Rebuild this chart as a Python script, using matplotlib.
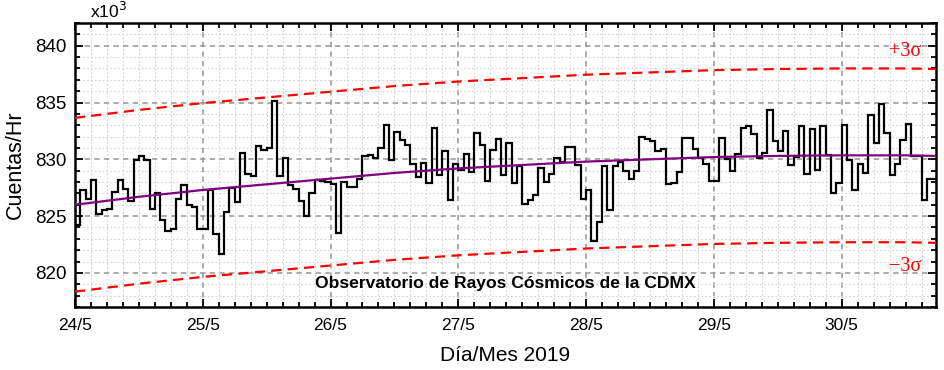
import numpy as np
import matplotlib
matplotlib.use("Agg")
import matplotlib.pyplot as plt
from matplotlib.ticker import MultipleLocator

# ---------------- data (counts per hour, x10^3) ----------------
day_labels = ["24/5", "25/5", "26/5", "27/5", "28/5", "29/5", "30/5"]

counts = [
    824.2, 827.3, 826.5, 828.2, 825.2, 825.5, 825.6, 827.1, 828.2, 827.4,
    826.3, 829.9, 830.3, 829.9, 825.6, 827.0, 824.7, 823.7, 823.9, 826.5,
    827.7, 826.0, 825.8, 823.9, 823.9, 827.3, 823.4, 821.7, 825.4, 827.5,
    826.2, 830.6, 828.7, 828.5, 831.2, 830.8, 831.0, 835.1, 828.5, 830.1,
    827.7, 827.4, 826.3, 825.0, 827.0, 828.2, 828.1, 828.0, 827.8, 823.5,
    828.0, 827.6, 827.6, 828.3, 830.3, 830.4, 830.1, 831.0, 833.0, 829.9,
    832.4, 831.7, 831.3, 829.6, 828.4, 829.7, 827.9, 832.8, 828.6, 830.7,
    826.4, 829.6, 829.1, 830.5, 828.9, 832.3, 831.3, 828.1, 830.8, 831.8,
    828.6, 831.4, 827.9, 829.4, 826.1, 826.4, 826.9, 829.2, 828.0, 828.7,
    830.1, 829.8, 831.1, 831.1, 829.5, 826.5, 827.3, 822.8, 824.5, 829.4,
    825.5, 829.4, 829.8, 829.0, 828.3, 829.0, 832.0, 831.8, 831.6, 830.7,
    830.9, 827.8, 827.9, 828.9, 831.9, 831.9, 830.9, 830.1, 829.6, 828.1,
    828.1, 831.9, 830.0, 829.0, 830.5, 832.8, 832.9, 832.2, 830.1, 830.6,
    834.3, 831.6, 830.7, 832.5, 829.5, 830.2, 832.9, 828.7, 832.7, 829.1,
    832.9, 830.4, 827.0, 827.9, 833.0, 829.9, 827.3, 829.6, 828.8, 833.9,
    831.4, 834.9, 832.3, 828.6, 829.6, 831.7, 833.1, 830.3, 830.3, 826.4,
    828.3, 828.3,
]

# trend line and +/-3 sigma bands, read at 12-hour steps
band_hours = [0, 12, 24, 36, 48, 60, 72, 84, 96, 108, 120, 132, 144, 156, 161.7]
trend = [826.0, 826.7, 827.3, 827.8, 828.3, 828.8, 829.2, 829.5, 829.8,
         830.0, 830.2, 830.3, 830.35, 830.35, 830.3]
upper = [833.65, 834.35, 834.95, 835.45, 835.95, 836.45, 836.85, 837.15,
         837.45, 837.65, 837.85, 837.95, 838.0, 838.0, 837.95]
lower = [818.35, 819.05, 819.65, 820.15, 820.65, 821.15, 821.55, 821.85,
         822.15, 822.35, 822.55, 822.65, 822.7, 822.7, 822.65]

# ---------------- figure ----------------
plt.rcParams['font.family'] = ['Liberation Sans', 'DejaVu Sans']

fig = plt.figure(figsize=(9.44, 3.70), dpi=100)
ax = fig.add_axes([0.0794, 0.1703, 0.9121, 0.7675])

x_max = 161.7
ax.set_xlim(0, x_max)
ax.set_ylim(817, 842)

# grids
ax.xaxis.set_major_locator(MultipleLocator(24))
ax.xaxis.set_minor_locator(MultipleLocator(3))
ax.yaxis.set_major_locator(MultipleLocator(5))
ax.yaxis.set_minor_locator(MultipleLocator(1))
ax.grid(which='minor', color='#d2d2d2', linestyle=(0, (1.5, 2)), linewidth=0.8, zorder=0)
ax.grid(which='major', color='#959595', linestyle=(0, (3.5, 2.8)), linewidth=1.1, zorder=0)
ax.set_axisbelow(True)

# data
edges = np.arange(len(counts) + 1)
ax.stairs(counts, edges, baseline=None, color='black', linewidth=1.6, zorder=3)
ax.plot(band_hours, trend, color='#800080', linewidth=1.6, zorder=4)
ax.plot(band_hours, upper, color='#ff0000', linewidth=1.6, linestyle=(0, (4.6, 2.8)), zorder=4)
ax.plot(band_hours, lower, color='#ff0000', linewidth=1.6, linestyle=(0, (4.6, 2.8)), zorder=4)

# ticks
ax.set_xticks(np.arange(len(day_labels)) * 24)
ax.set_xticklabels(day_labels)
ax.tick_params(which='both', direction='in', top=True, right=True, width=1.3)
ax.tick_params(which='major', length=6)
ax.tick_params(which='minor', length=3.5)
ax.tick_params(axis='y', which='major', labelsize=13.5, pad=6)
ax.tick_params(axis='x', which='major', labelsize=12.5, pad=8)
for sp in ax.spines.values():
    sp.set_linewidth(1.8)

ax.set_ylabel('Cuentas/Hr', fontsize=15.5, labelpad=7)
ax.set_xlabel('Día/Mes 2019', fontsize=15, labelpad=9)

ax.text(0.018, 1.008, r'x10$^3$', transform=ax.transAxes, fontsize=12.5,
        ha='left', va='bottom')
ax.text(0.5, 0.082, 'Observatorio de Rayos Cósmicos de la CDMX', transform=ax.transAxes,
        fontsize=12.6, fontweight='bold', ha='center', va='center', zorder=5)

ax.text(0.964, 0.898, '+3σ', transform=ax.transAxes, color='#ff0000',
        fontsize=14.5, family='Liberation Serif', ha='center', va='center')
ax.text(0.964, 0.144, '−3σ', transform=ax.transAxes, color='#ff0000',
        fontsize=14.5, family='Liberation Serif', ha='center', va='center')

fig.savefig('out.png', dpi=100)
